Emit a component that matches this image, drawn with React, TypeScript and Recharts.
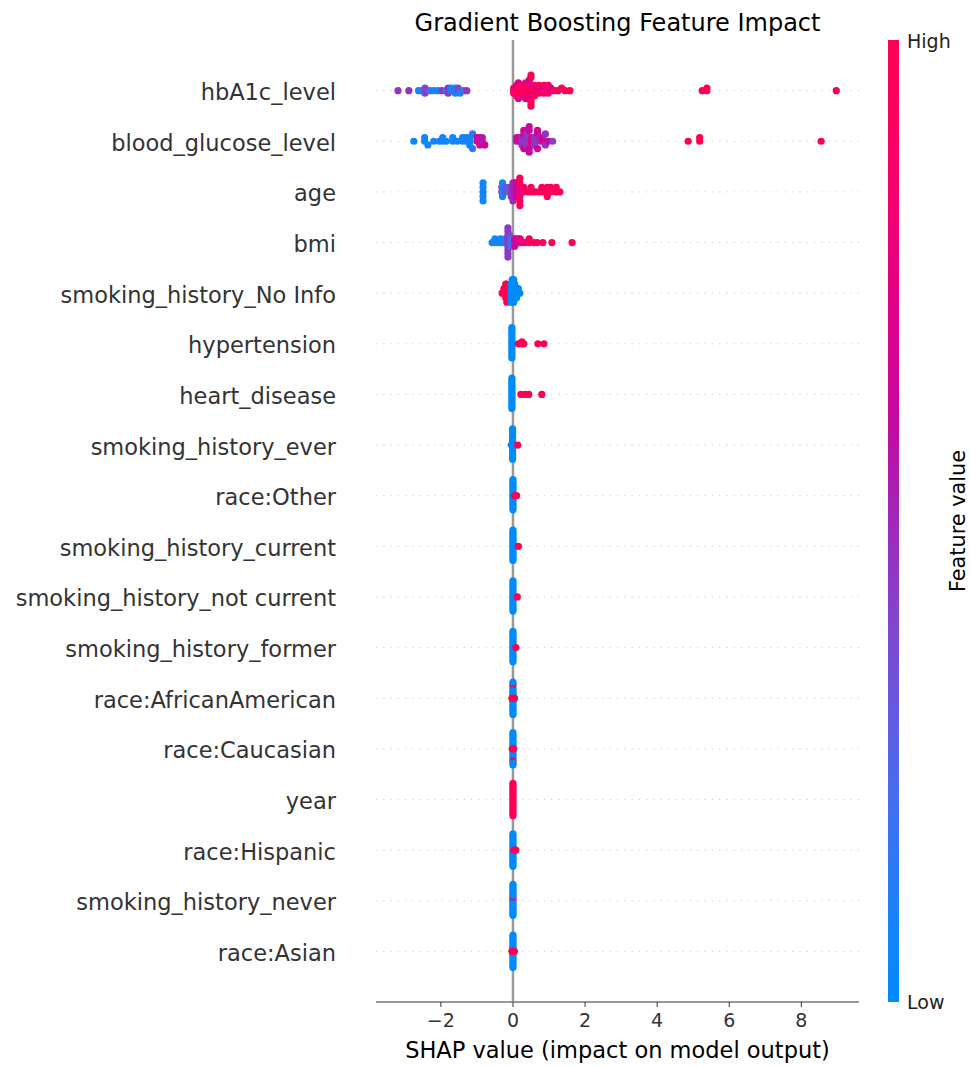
import React from 'react';
import { ScatterChart, Scatter, XAxis, YAxis } from 'recharts';

// feature names, top to bottom
const FEATURES = [
  'hbA1c_level',
  'blood_glucose_level',
  'age',
  'bmi',
  'smoking_history_No Info',
  'hypertension',
  'heart_disease',
  'smoking_history_ever',
  'race:Other',
  'smoking_history_current',
  'smoking_history_not current',
  'smoking_history_former',
  'race:AfricanAmerican',
  'race:Caucasian',
  'year',
  'race:Hispanic',
  'smoking_history_never',
  'race:Asian',
];

// [shap value, feature value 0..1, count]
type Pt = [number, number, number?];

const HBA1C: Pt[] = [
  [-3.19, 0.45], [-2.89, 0.45], [-2.62, 0.1], [-2.52, 0.05], [-2.44, 0.4, 2], [-2.3, 0.2],
  [-2.2, 0.08], [-2.08, 0.05], [-1.97, 0.45], [-1.85, 0.1], [-1.8, 0.45, 2], [-1.72, 0.05, 2],
  [-1.65, 0.3], [-1.6, 0.05, 2], [-1.52, 0.4, 2], [-1.47, 0.1], [-1.38, 0.2], [-1.28, 0.45],
  [0.02, 0.95, 3], [0.06, 0.8, 2], [0.1, 0.95, 3], [0.15, 0.7, 2], [0.2, 0.95, 3], [0.25, 0.75, 2],
  [0.3, 0.95, 4], [0.35, 0.8, 3], [0.4, 0.95, 5], [0.45, 0.65, 3], [0.5, 0.95, 5], [0.55, 0.85, 3],
  [0.6, 0.95, 2], [0.66, 0.75, 2], [0.72, 0.95, 2], [0.8, 0.7, 2], [0.86, 0.95, 2], [0.92, 0.8, 2],
  [0.98, 0.95, 2], [1.05, 0.75, 2], [1.15, 0.95], [1.25, 0.95], [1.35, 0.95], [1.45, 0.95],
  [1.58, 0.95], [5.25, 1], [5.38, 1, 2], [8.97, 1],
];

const GLUCOSE: Pt[] = [
  [-2.75, 0.05], [-2.45, 0.05, 2], [-2.36, 0.1], [-2.2, 0.05], [-2.05, 0.1], [-1.95, 0.05, 2],
  [-1.85, 0.05], [-1.67, 0.05, 2], [-1.55, 0.1], [-1.4, 0.05, 2], [-1.3, 0.1, 2], [-1.2, 0.05, 3],
  [-1.12, 0.15, 2], [-1.0, 0.6, 2], [-0.92, 0.65, 3], [-0.85, 0.55, 2], [-0.78, 0.6],
  [0.1, 0.55, 2], [0.18, 0.7, 2], [0.25, 0.45, 3], [0.3, 0.65, 3], [0.38, 0.45, 4], [0.45, 0.6, 4],
  [0.52, 0.7, 3], [0.6, 0.45, 3], [0.68, 0.65, 3], [0.75, 0.5, 2], [0.82, 0.7, 2], [0.9, 0.45, 2],
  [0.98, 0.6], [1.1, 0.42], [4.86, 1], [5.18, 1, 2], [8.55, 1],
];

const AGE: Pt[] = [
  [-0.83, 0.05, 5], [-0.31, 0.45, 2], [-0.29, 0.08, 4], [-0.2, 0.35, 2], [-0.1, 0.2, 2],
  [-0.05, 0.45, 3], [0.0, 0.5, 5], [0.05, 0.55, 4], [0.1, 0.6, 4], [0.15, 0.75, 3],
  [0.19, 0.75, 3], [0.19, 0.95, 4], [0.3, 0.9, 2], [0.4, 0.95], [0.5, 0.95, 2], [0.6, 0.9],
  [0.7, 0.95], [0.8, 0.95, 2], [0.95, 0.95, 3], [1.05, 0.95, 2], [1.2, 0.95, 2], [1.3, 0.95],
];

const BMI: Pt[] = [
  [-0.58, 0.05], [-0.5, 0.05, 2], [-0.42, 0.1], [-0.35, 0.05, 2], [-0.28, 0.1], [-0.22, 0.15, 2],
  [-0.17, 0.05, 2], [-0.14, 0.45, 9], [-0.1, 0.4, 4], [-0.05, 0.3, 3], [0.0, 0.2, 3],
  [0.05, 0.6, 3], [0.1, 0.7, 2], [0.15, 0.55, 2], [0.2, 0.8, 2], [0.28, 0.85], [0.35, 0.75],
  [0.45, 0.9, 2], [0.58, 0.95], [0.67, 0.95], [0.83, 0.95], [1.08, 0.95], [1.64, 0.95],
];

const NO_INFO: Pt[] = [
  [-0.3, 1], [-0.25, 1, 2], [-0.2, 1, 4], [-0.17, 1, 5], [-0.12, 1, 3], [-0.08, 0.9, 3],
  [-0.05, 0, 5], [-0.02, 0, 6], [0.02, 0, 6], [0.05, 0, 4], [0.1, 0, 3], [0.15, 0, 2], [0.19, 0],
];

const HYPERTENSION: Pt[] = [[-0.03, 0, 16], [0.15, 1], [0.25, 1, 2], [0.3, 1], [0.69, 1], [0.86, 1]];
const HEART: Pt[] = [[-0.03, 0, 16], [0.22, 1], [0.34, 1], [0.44, 1], [0.8, 1]];
const SMOKE_EVER: Pt[] = [[-0.05, 0], [-0.01, 0, 16], [0.13, 1]];
const RACE_OTHER: Pt[] = [[0.0, 0, 16], [0.05, 1], [0.1, 1]];
const SMOKE_CURRENT: Pt[] = [[0.0, 0, 16], [0.15, 1]];
const SMOKE_NOT_CURRENT: Pt[] = [[0.0, 0, 16], [0.12, 1]];
const SMOKE_FORMER: Pt[] = [[0.0, 0, 16], [0.08, 1]];
const RACE_AA: Pt[] = [[0.0, 0, 13], [0.0, 1], [0.0, 0, 3], [-0.03, 1], [0.04, 1]];
const RACE_CAUC: Pt[] = [[0.0, 0, 12], [0.0, 1], [0.0, 0, 4], [-0.02, 1], [0.02, 1]];
const YEAR: Pt[] = [[0.0, 0.1], [0.0, 1, 16]];
const RACE_HISP: Pt[] = [[0.0, 0, 17], [0.02, 1], [0.08, 1]];
const SMOKE_NEVER: Pt[] = [[0.0, 0], [0.0, 1], [0.0, 0], [0.0, 1], [0.0, 0, 14]];
const RACE_ASIAN: Pt[] = [[0.0, 0], [0.0, 1, 2], [0.0, 0, 14], [-0.03, 1], [0.04, 1]];

const ROWS = [
  HBA1C, GLUCOSE, AGE, BMI, NO_INFO, HYPERTENSION, HEART, SMOKE_EVER, RACE_OTHER,
  SMOKE_CURRENT, SMOKE_NOT_CURRENT, SMOKE_FORMER, RACE_AA, RACE_CAUC, YEAR, RACE_HISP,
  SMOKE_NEVER, RACE_ASIAN,
];

const X_DOMAIN = [-3.8, 9.6];
const X_TICKS = [-2, 0, 2, 4, 6, 8];

// approx. of shap's red_blue map
const CMAP: [number, number, number, number][] = [
  [0, 0, 139, 251],
  [0.1, 30, 128, 248],
  [0.2, 65, 112, 240],
  [0.3, 100, 90, 225],
  [0.4, 130, 68, 205],
  [0.5, 160, 40, 185],
  [0.6, 195, 10, 160],
  [0.7, 220, 0, 140],
  [0.8, 238, 0, 118],
  [0.9, 248, 0, 98],
  [1, 255, 0, 81],
];

function cmap(v: number) {
  for (let i = 1; i < CMAP.length; i++) {
    const [p1, r1, g1, b1] = CMAP[i];
    const [p0, r0, g0, b0] = CMAP[i - 1];
    if (v <= p1) {
      const t = (v - p0) / (p1 - p0);
      const m = (a: number, b: number) => Math.round(a + (b - a) * t);
      return `rgb(${m(r0, r1)},${m(g0, g1)},${m(b0, b1)})`;
    }
  }
  return 'rgb(255,0,81)';
}

// same binning/stacking as shap's beeswarm
function swarm(vals: number[]) {
  const nbins = 100;
  const mn = Math.min(...vals);
  const mx = Math.max(...vals);
  const q = vals.map(v => Math.round((nbins * (v - mn)) / (mx - mn + 1e-8)));
  const order = vals.map((_, i) => i).sort((a, b) => q[a] - q[b] || a - b);
  const ys = new Array(vals.length).fill(0);
  let layer = 0;
  let last = -1;
  for (const i of order) {
    if (q[i] !== last) layer = 0;
    ys[i] = Math.ceil(layer / 2) * ((layer % 2) * 2 - 1);
    layer++;
    last = q[i];
  }
  const m = Math.max(...ys.map(y => y + 1));
  return ys.map(y => y * 0.9 * (0.4 / m));
}

const N = FEATURES.length;

const points = ROWS.flatMap((groups, r) => {
  const pts = groups.flatMap(([x, v, n = 1]) => Array.from({ length: n }, () => ({ x, v })));
  const ys = swarm(pts.map(p => p.x));
  const pos = N - 1 - r;
  return pts.map((p, i) => ({ x: p.x, y: pos + ys[i], fill: cmap(p.v) }));
});

const zeroLine = [{ x: 0, y: -1 }, { x: 0, y: N }];
const rowLines = FEATURES.map((_, i) => [{ x: X_DOMAIN[0], y: i }, { x: X_DOMAIN[1], y: i }]);

const FONT = '"DejaVu Sans", sans-serif';

const YTick = (props: any) => (
  <text x={336} y={props.y} dy={9.5} textAnchor="end" fontSize={22.5} fill="#333333" fontFamily={FONT}>
    {FEATURES[N - 1 - props.payload.value]}
  </text>
);

const XTick = (props: any) => (
  <text x={props.x} y={1027} textAnchor="middle" fontSize={19} fill="#333333" fontFamily={FONT}>
    {String(props.payload.value).replace('-', '\u2212')}
  </text>
);

const Dot = (props: any) => <circle cx={props.cx} cy={props.cy} r={3.6} fill={props.payload.fill} />;

export default function App() {
  return (
    <div style={{ position: 'absolute', left: 0, top: 0, width: 971, height: 1067, background: '#fff' }}>
      <ScatterChart width={971} height={1067} margin={{ top: 40, right: 112, bottom: 35, left: 10 }}>
        <XAxis
          type="number"
          dataKey="x"
          domain={X_DOMAIN}
          ticks={X_TICKS}
          allowDataOverflow
          height={30}
          tickSize={5}
          stroke="#333333"
          tick={<XTick />}
        />
        <YAxis
          type="number"
          dataKey="y"
          domain={[-1, N]}
          ticks={FEATURES.map((_, i) => i)}
          width={366}
          axisLine={false}
          tickLine={false}
          tick={<YTick />}
        />
        {rowLines.map((d, i) => (
          <Scatter
            key={i}
            data={d}
            line={{ stroke: '#cccccc', strokeWidth: 1, strokeDasharray: '1.2 6.1' }}
            shape={() => <g />}
            isAnimationActive={false}
          />
        ))}
        <Scatter
          data={zeroLine}
          line={{ stroke: '#999999', strokeWidth: 2.5 }}
          shape={() => <g />}
          isAnimationActive={false}
        />
        <Scatter data={points} shape={<Dot />} isAnimationActive={false} />
      </ScatterChart>
      <svg width={971} height={1067} style={{ position: 'absolute', left: 0, top: 0, pointerEvents: 'none' }}>
        <defs>
          <linearGradient id="cb" x1="0" y1="1" x2="0" y2="0">
            {CMAP.map(([p, r, g, b]) => (
              <stop key={p} offset={p} stopColor={`rgb(${r},${g},${b})`} />
            ))}
          </linearGradient>
        </defs>
        <rect x={888} y={40} width={11} height={962} fill="url(#cb)" />
        <text x={617.5} y={31} textAnchor="middle" fontSize={24} fill="#000" fontFamily={FONT}>
          Gradient Boosting Feature Impact
        </text>
        <text x={617.5} y={1058} textAnchor="middle" fontSize={22.5} fill="#000" fontFamily={FONT}>
          SHAP value (impact on model output)
        </text>
        <text x={907} y={47.5} fontSize={19} fill="#222" fontFamily={FONT}>High</text>
        <text x={907} y={1009} fontSize={19} fill="#222" fontFamily={FONT}>Low</text>
        <text
          x={965}
          y={521}
          textAnchor="middle"
          fontSize={20.8}
          fill="#000"
          fontFamily={FONT}
          transform="rotate(-90 965 521)"
        >
          Feature value
        </text>
      </svg>
    </div>
  );
}
